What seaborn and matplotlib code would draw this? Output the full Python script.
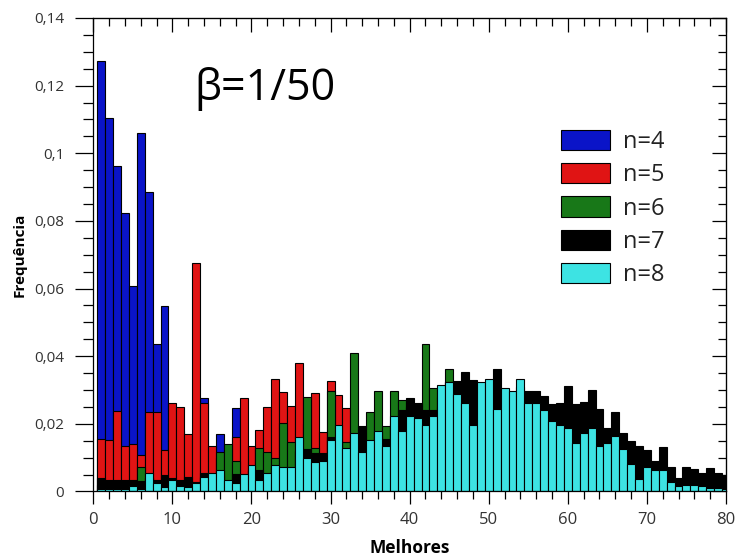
import matplotlib
matplotlib.use("Agg")
import matplotlib.pyplot as plt
import seaborn as sns
from matplotlib.patches import Patch
from matplotlib.ticker import MultipleLocator, FuncFormatter

melhores = list(range(1, 81))

n4 = [0.1274, 0.1103, 0.0962, 0.0823, 0.0609, 0.1059, 0.0886, 0.0436, 0.0549, 0.0200,
      0.0180, 0.0120, 0.0100, 0.0275, 0.0100, 0.0170, 0.0090, 0.0246, 0.0080, 0.0060,
      0.005, 0.004, 0.004, 0.003, 0.003, 0.002, 0.002, 0.002, 0.001, 0.001,
      0, 0, 0, 0, 0, 0, 0, 0, 0, 0,
      0, 0, 0, 0, 0, 0, 0, 0, 0, 0,
      0, 0, 0, 0, 0, 0, 0, 0, 0, 0,
      0, 0, 0, 0, 0, 0, 0, 0, 0, 0,
      0, 0, 0, 0, 0, 0, 0, 0, 0, 0]

n5 = [0.0154, 0.0152, 0.0239, 0.0135, 0.0139, 0.0108, 0.0236, 0.0236, 0.0123, 0.0263,
      0.0251, 0.0170, 0.0677, 0.0261, 0.0134, 0.0100, 0.0110, 0.0160, 0.0275, 0.0134,
      0.0182, 0.0251, 0.0332, 0.0295, 0.0253, 0.0379, 0.0200, 0.0290, 0.0177, 0.0328,
      0.0285, 0.0246, 0.0150, 0.0100, 0.0090, 0.0080, 0.0070, 0.0060, 0.0050, 0.0040,
      0.004, 0.003, 0.003, 0.002, 0.002, 0.001, 0.001, 0.001, 0.001, 0.001,
      0, 0, 0, 0, 0, 0, 0, 0, 0, 0,
      0, 0, 0, 0, 0, 0, 0, 0, 0, 0,
      0, 0, 0, 0, 0, 0, 0, 0, 0, 0]

n6 = [0.002, 0.002, 0.002, 0.002, 0.003, 0.0071, 0.004, 0.002, 0.003, 0.003,
      0.003, 0.003, 0.002, 0.004, 0.004, 0.0118, 0.0140, 0.0091, 0.004, 0.006,
      0.0128, 0.0118, 0.0099, 0.0203, 0.0147, 0.0120, 0.0278, 0.0128, 0.0090, 0.0298,
      0.0150, 0.0147, 0.0410, 0.0120, 0.0235, 0.0298, 0.0194, 0.0298, 0.0270, 0.0250,
      0.0260, 0.0436, 0.0305, 0.0250, 0.0361, 0.0250, 0.0220, 0.0190, 0.0180, 0.0160,
      0.014, 0.012, 0.011, 0.010, 0.009, 0.008, 0.007, 0.006, 0.005, 0.005,
      0.004, 0.004, 0.003, 0.003, 0.002, 0.002, 0.002, 0.001, 0.001, 0.001,
      0.001, 0.001, 0, 0, 0, 0, 0, 0, 0, 0]

n7 = [0.0040, 0.0035, 0.0035, 0.0035, 0.0035, 0.0030, 0.0040, 0.0035, 0.0049, 0.0040,
      0.0035, 0.0044, 0.0028, 0.0054, 0.0050, 0.0050, 0.0030, 0.0052, 0.0040, 0.0060,
      0.0064, 0.0050, 0.0070, 0.0060, 0.0060, 0.0120, 0.0127, 0.0113, 0.0113, 0.0160,
      0.0150, 0.0120, 0.0150, 0.0194, 0.0140, 0.0160, 0.0154, 0.0200, 0.0241, 0.0275,
      0.0263, 0.0241, 0.0241, 0.0280, 0.0325, 0.0328, 0.0354, 0.0331, 0.0300, 0.0310,
      0.0361, 0.0290, 0.0280, 0.0310, 0.0298, 0.0298, 0.0283, 0.0260, 0.0263, 0.0311,
      0.0260, 0.0266, 0.0300, 0.0243, 0.0187, 0.0234, 0.0172, 0.0150, 0.0134, 0.0123,
      0.0091, 0.0131, 0.0071, 0.0039, 0.0071, 0.0066, 0.0054, 0.0070, 0.0054, 0.0049]

n8 = [0.0008, 0.0008, 0.0008, 0.0008, 0.0016, 0.0008, 0.0055, 0.0024, 0.0014, 0.0034,
      0.0017, 0.0014, 0.0026, 0.0044, 0.0056, 0.0064, 0.0034, 0.0026, 0.0052, 0.0078,
      0.0034, 0.0056, 0.0078, 0.0071, 0.0071, 0.0162, 0.0098, 0.0087, 0.0090, 0.0152,
      0.0197, 0.0128, 0.0172, 0.0117, 0.0152, 0.0180, 0.0135, 0.0223, 0.0180, 0.0222,
      0.0216, 0.0197, 0.0223, 0.0315, 0.0325, 0.0288, 0.0263, 0.0197, 0.0325, 0.0334,
      0.0243, 0.0307, 0.0298, 0.0334, 0.0263, 0.0263, 0.0242, 0.0209, 0.0197, 0.0188,
      0.0144, 0.0172, 0.0188, 0.0134, 0.0144, 0.0164, 0.0125, 0.0081, 0.0036, 0.0071,
      0.0064, 0.0064, 0.0027, 0.0016, 0.0019, 0.0019, 0.0016, 0.0009, 0.0009, 0.0006]

labels = ["n=4", "n=5", "n=6", "n=7", "n=8"]
colors = ["#0a14c8", "#e01414", "#187818", "#000000", "#3de3e3"]
series = [n4, n5, n6, n7, n8]

sns.set_style("ticks")
plt.rcParams["font.family"] = ["Open Sans", "DejaVu Sans"]
plt.rcParams["axes.edgecolor"] = "black"
plt.rcParams["xtick.color"] = "black"
plt.rcParams["ytick.color"] = "black"
plt.rcParams["text.color"] = "#222222"

fig = plt.figure(figsize=(7.36, 5.59), dpi=100)
ax = fig.add_axes([0.1268, 0.1208, 0.8596, 0.847])

for vals, col in zip(series, colors):
    sns.histplot(x=melhores, weights=vals, discrete=True, color=col, alpha=1,
                 edgecolor="black", linewidth=0.8, ax=ax, stat="count")

ax.set_xlim(0, 80)
ax.set_ylim(0, 0.14)
ax.xaxis.set_major_locator(MultipleLocator(10))
ax.xaxis.set_minor_locator(MultipleLocator(2))
ax.yaxis.set_major_locator(MultipleLocator(0.02))
ax.yaxis.set_minor_locator(MultipleLocator(0.005))
fmt = FuncFormatter(lambda v, p: ("%g" % round(v, 4)).replace(".", ","))
ax.yaxis.set_major_formatter(fmt)
ax.tick_params(axis="x", which="major", direction="out", length=9, width=0.9,
               labelsize=12, pad=6, labelcolor="#333333")
ax.tick_params(axis="x", which="minor", direction="out", length=5.5, width=0.9)
ax.tick_params(axis="y", which="major", direction="out", length=13, width=0.9,
               labelsize=11, pad=8, labelcolor="#333333")
ax.tick_params(axis="y", which="minor", direction="out", length=7.5, width=0.9)
for sp in ax.spines.values():
    sp.set_linewidth(0.9)
    sp.set_color("black")

secx = ax.secondary_xaxis("top")
secx.xaxis.set_major_locator(MultipleLocator(10))
secx.xaxis.set_minor_locator(MultipleLocator(2))
secx.tick_params(which="major", direction="in", length=10, width=0.9, labeltop=False)
secx.tick_params(which="minor", direction="in", length=5.5, width=0.9)
secy = ax.secondary_yaxis("right")
secy.yaxis.set_major_locator(MultipleLocator(0.02))
secy.yaxis.set_minor_locator(MultipleLocator(0.005))
secy.tick_params(which="major", direction="in", length=10, width=0.9, labelright=False)
secy.tick_params(which="minor", direction="in", length=5.5, width=0.9)

ax.set_xlabel("Melhores", fontsize=12.5, fontweight="bold", labelpad=8, color="black")
ax.set_ylabel("Frequência", fontsize=11, fontweight="bold", labelpad=5, color="black")

ax.text(12.8, 0.119, "β=1/50", fontsize=31, va="center", ha="left", color="black")

handles = [Patch(facecolor=c, edgecolor="black", linewidth=0.8) for c in colors]
ax.legend(handles, labels, loc="upper left", bbox_to_anchor=(0.739, 0.764),
          frameon=False, fontsize=17, handlelength=2.1, handleheight=0.95,
          handletextpad=0.55, labelspacing=0.38, borderpad=0, borderaxespad=0)

fig.savefig("out.png", dpi=100)
